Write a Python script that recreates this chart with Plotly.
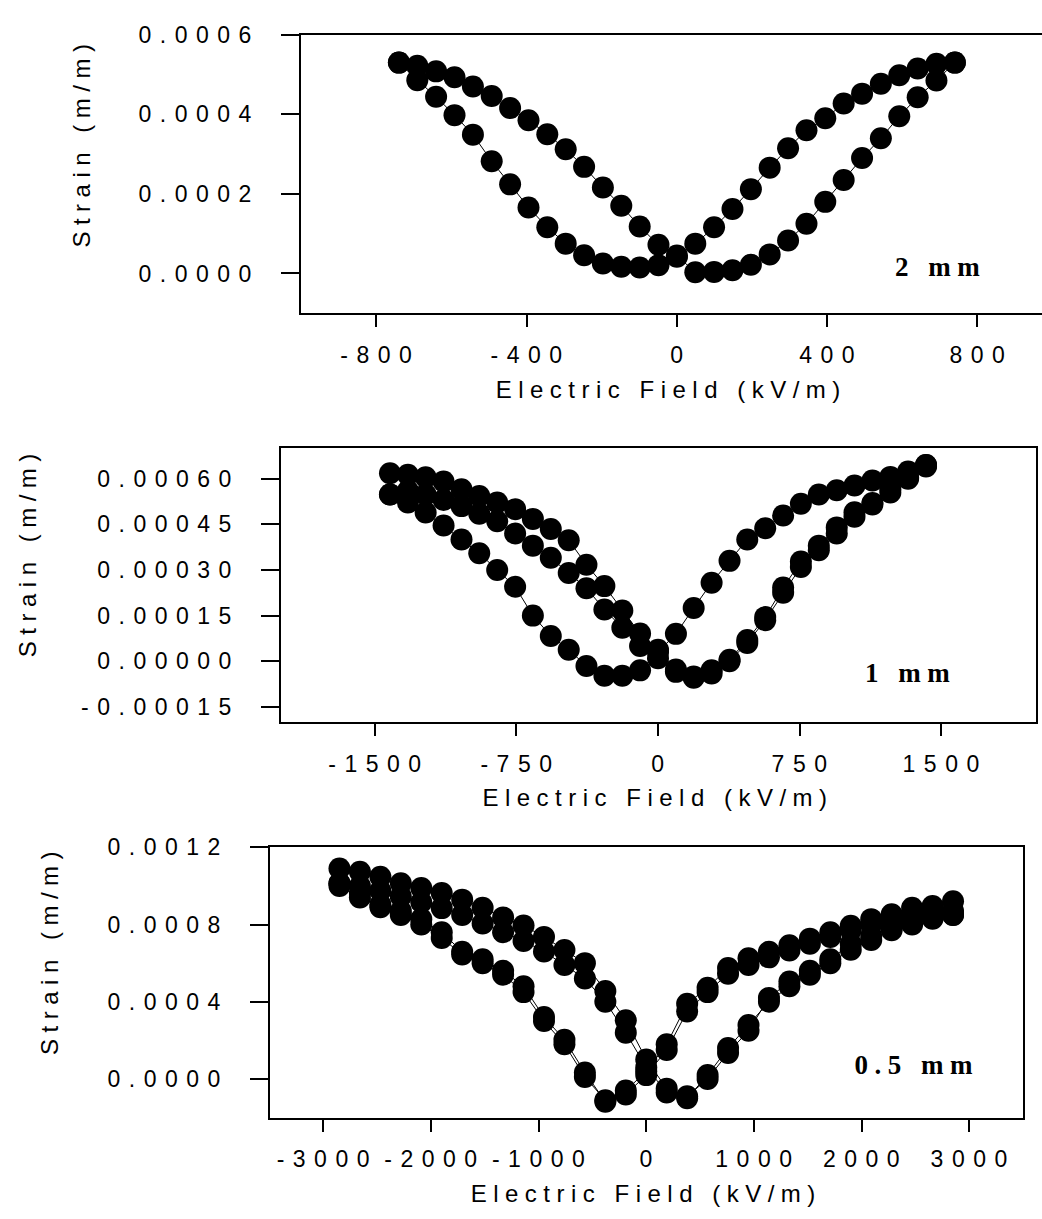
import plotly.graph_objects as go

W, H = 1042, 1219

# ---------------- data ----------------
# Panel 1 (2 mm)
E1_inc = [-740, -691, -641, -592, -543, -493, -444, -395, -345, -296, -247, -197, -148, -99, -49, 0,
          49, 99, 148, 197, 247, 296, 345, 395, 444, 493, 543, 592, 641, 691, 740]
S1_inc = [0.000530, 0.000522, 0.000508, 0.000493, 0.000470, 0.000446, 0.000416, 0.000385, 0.000350,
          0.000312, 0.000268, 0.000216, 0.000170, 0.000118, 0.000072, 0.000045, 0.000003, 0.000004,
          0.000008, 0.000022, 0.000048, 0.000083, 0.000125, 0.000180, 0.000235, 0.000290, 0.000340,
          0.000395, 0.000443, 0.000485, 0.000530]
E1_dec = [740, 691, 641, 592, 543, 493, 444, 395, 345, 296, 247, 197, 148, 99, 49, 0,
          -49, -99, -148, -197, -247, -296, -345, -395, -444, -493, -543, -592, -641, -691, -740]
S1_dec = [0.000530, 0.000527, 0.000515, 0.000498, 0.000477, 0.000452, 0.000427, 0.000390, 0.000360,
          0.000315, 0.000266, 0.000212, 0.000162, 0.000116, 0.000075, 0.000042, 0.000021, 0.000015,
          0.000017, 0.000025, 0.000046, 0.000075, 0.000116, 0.000166, 0.000224, 0.000282, 0.000349,
          0.000398, 0.000444, 0.000486, 0.000530]

# Panel 2 (1 mm)
E2_inc = [-1420, -1325, -1231, -1136, -1041, -947, -852, -757, -663, -568, -473, -379, -284, -189, -95, 0,
          95, 189, 284, 379, 473, 568, 663, 757, 852, 947, 1041, 1136, 1231, 1325, 1420]
S2_inc1 = [0.000618, 0.000613, 0.000605, 0.000591, 0.000565, 0.000543, 0.000522, 0.000500, 0.000468,
           0.000435, 0.000398, 0.000317, 0.000247, 0.000167, 0.000091, 0.000038, -0.000027, -0.000054,
           -0.000030, 0.000005, 0.000070, 0.000145, 0.000242, 0.000328, 0.000380, 0.000440, 0.000490,
           0.000520, 0.000565, 0.000605, 0.000645]
E2_dec = [1420, 1325, 1231, 1136, 1041, 947, 852, 757, 663, 568, 473, 379, 284, 189, 95, 0,
          -95, -189, -284, -379, -473, -568, -663, -757, -852, -947, -1041, -1136, -1231, -1325, -1420]
S2_dec = [0.000645, 0.000624, 0.000606, 0.000594, 0.000578, 0.000562, 0.000548, 0.000518, 0.000479,
          0.000437, 0.000400, 0.000330, 0.000258, 0.000175, 0.000090, 0.000030, -0.000030, -0.000048,
          -0.000048, -0.000016, 0.000038, 0.000083, 0.000150, 0.000245, 0.000300, 0.000355, 0.000400,
          0.000446, 0.000489, 0.000522, 0.000548]
S2_inc2 = [0.000548, 0.000560, 0.000548, 0.000530, 0.000510, 0.000485, 0.000460, 0.000420, 0.000380,
           0.000340, 0.000290, 0.000240, 0.000170, 0.000110, 0.000050, 0.000010, -0.000035, -0.000050,
           -0.000040, 0.000000, 0.000060, 0.000135, 0.000225, 0.000310, 0.000365, 0.000420, 0.000475,
           0.000515, 0.000555, 0.000600, 0.000640]

# Panel 3 (0.5 mm)
E3_inc = [-2850, -2660, -2470, -2280, -2090, -1900, -1710, -1520, -1330, -1140, -950, -760, -570, -380, -190, 0,
          190, 380, 570, 760, 950, 1140, 1330, 1520, 1710, 1900, 2090, 2280, 2470, 2660, 2850]
S3_inc1 = [0.001090, 0.001073, 0.001048, 0.001014, 0.000989, 0.000963, 0.000929, 0.000887, 0.000837,
           0.000795, 0.000736, 0.000668, 0.000600, 0.000456, 0.000304, 0.000101, -0.000050, -0.000090,
           0.000000, 0.000135, 0.000250, 0.000420, 0.000505, 0.000560, 0.000620, 0.000700, 0.000740,
           0.000790, 0.000830, 0.000850, 0.000870]
E3_dec = [2850, 2660, 2470, 2280, 2090, 1900, 1710, 1520, 1330, 1140, 950, 760, 570, 380, 190, 0,
          -190, -380, -570, -760, -950, -1140, -1330, -1520, -1710, -1900, -2090, -2280, -2470, -2660, -2850]
S3_dec1 = [0.000921, 0.000896, 0.000887, 0.000853, 0.000828, 0.000794, 0.000760, 0.000727, 0.000693,
           0.000659, 0.000625, 0.000575, 0.000473, 0.000390, 0.000180, 0.000040, -0.000060, -0.000118,
           0.000034, 0.000203, 0.000321, 0.000480, 0.000560, 0.000620, 0.000659, 0.000760, 0.000828,
           0.000870, 0.000904, 0.000963, 0.001014]
S3_inc2 = [0.001014, 0.001000, 0.000975, 0.000945, 0.000915, 0.000885, 0.000850, 0.000805, 0.000760,
           0.000715, 0.000660, 0.000590, 0.000520, 0.000400, 0.000240, 0.000060, -0.000070, -0.000100,
           0.000020, 0.000160, 0.000280, 0.000400, 0.000480, 0.000540, 0.000600, 0.000670, 0.000720,
           0.000770, 0.000800, 0.000830, 0.000850]
S3_dec2 = [0.000850, 0.000870, 0.000860, 0.000830, 0.000800, 0.000770, 0.000735, 0.000700, 0.000665,
           0.000630, 0.000590, 0.000545, 0.000450, 0.000350, 0.000150, 0.000020, -0.000080, -0.000110,
           0.000010, 0.000180, 0.000300, 0.000450, 0.000540, 0.000600, 0.000645, 0.000730, 0.000800,
           0.000850, 0.000890, 0.000940, 0.001000]

# tick labels
X1_ticks = [-800, -400, 0, 400, 800]
X1_text = ["-800", "-400", "0", "400", "800"]
Y1_ticks = [0.0, 0.0002, 0.0004, 0.0006]
Y1_text = ["0.0000", "0.0002", "0.0004", "0.0006"]
X2_ticks = [-1500, -750, 0, 750, 1500]
X2_text = ["-1500", "-750", "0", "750", "1500"]
Y2_ticks = [-0.00015, 0.0, 0.00015, 0.00030, 0.00045, 0.00060]
Y2_text = ["-0.00015", "0.00000", "0.00015", "0.00030", "0.00045", "0.00060"]
X3_ticks = [-3000, -2000, -1000, 0, 1000, 2000, 3000]
X3_text = ["-3000", "-2000", "-1000", "0", "1000", "2000", "3000"]
Y3_ticks = [0.0, 0.0004, 0.0008, 0.0012]
Y3_text = ["0.0000", "0.0004", "0.0008", "0.0012"]

X_TITLE = "Electric Field (kV/m)"
Y_TITLE = "Strain (m/m)"
LABELS = ["2 mm", "1 mm", "0.5 mm"]

# ---------------- figure ----------------
SANS = "Liberation Sans, Arial, sans-serif"
SERIF = "Liberation Serif, Times New Roman, serif"

fig = go.Figure()

def add(E, S, ax, size):
    fig.add_trace(go.Scatter(
        x=E, y=S, mode="lines+markers", xaxis=ax[0], yaxis=ax[1],
        line=dict(color="black", width=1),
        marker=dict(color="black", size=size, line=dict(width=0)),
        showlegend=False, hoverinfo="skip"))

add(E1_inc, S1_inc, ("x", "y"), 22)
add(E1_dec, S1_dec, ("x", "y"), 22)
add(E2_inc, S2_inc1, ("x2", "y2"), 22)
add(E2_dec, S2_dec, ("x2", "y2"), 22)
add(E2_inc, S2_inc2, ("x2", "y2"), 22)
add(E3_inc, S3_inc1, ("x3", "y3"), 22)
add(E3_dec, S3_dec1, ("x3", "y3"), 22)
add(E3_inc, S3_inc2, ("x3", "y3"), 22)
add(E3_dec, S3_dec2, ("x3", "y3"), 22)

def px(x):
    return x / W

def py(y):
    return 1 - y / H

TICKFONT = dict(family=SANS, size=23, color="black")
TITLEFONT = dict(family=SANS, size=24, color="black")

def xaxis(dom, rng, vals, text, anchor):
    return dict(domain=dom, range=rng, tickmode="array", tickvals=vals, ticktext=text,
                anchor=anchor,
                showline=True, linecolor="black", linewidth=2, mirror=True,
                ticks="outside", ticklen=12, tickwidth=1.5, tickcolor="black",
                showgrid=False, zeroline=False,
                tickfont=TICKFONT, ticklabelstandoff=8, ticklabelshift=4,
                title=dict(text=X_TITLE, font=TITLEFONT, standoff=14))

def yaxis(dom, rng, vals, text, anchor, mirror=True):
    return dict(domain=dom, range=rng, tickmode="array", tickvals=vals, ticktext=text,
                anchor=anchor,
                showline=True, linecolor="black", linewidth=2, mirror=mirror,
                ticks="outside", ticklen=18, tickwidth=1.5, tickcolor="black",
                showgrid=False, zeroline=False,
                tickfont=TICKFONT, ticklabelstandoff=16)

# panel geometry (pixels)
p1 = dict(x0=300.5, x1=1042, y0=22, y1=303.5)
p2 = dict(x0=280.5, x1=1035.5, y0=440, y1=716.7)
p3 = dict(x0=269.5, x1=1023, y0=843.3, y1=1116.5)

fig.update_layout(
    width=W, height=H, margin=dict(l=0, r=0, t=0, b=0),
    paper_bgcolor="white", plot_bgcolor="white", showlegend=False,
    xaxis=xaxis([px(p1["x0"]), px(p1["x1"])], [-1002, 972], X1_ticks, X1_text, "y"),
    yaxis=yaxis([py(p1["y1"]), py(p1["y0"])], [-0.0001, 0.0006], Y1_ticks, Y1_text, "x", mirror=False),
    xaxis2=xaxis([px(p2["x0"]), px(p2["x1"])], [-2000, 2000], X2_ticks, X2_text, "y2"),
    yaxis2=yaxis([py(p2["y1"]), py(p2["y0"])], [-0.0002, 0.0007], Y2_ticks, Y2_text, "x2"),
    xaxis3=xaxis([px(p3["x0"]), px(p3["x1"])], [-3500, 3500], X3_ticks, X3_text, "y3"),
    yaxis3=yaxis([py(p3["y1"]), py(p3["y0"])], [-0.0002, 0.0012], Y3_ticks, Y3_text, "x3"),
)

ann = []
# y-axis titles
for xc, yc in [(82, 131), (27, 545), (50, 947)]:
    ann.append(dict(x=px(xc), y=py(yc), xref="paper", yref="paper", text=Y_TITLE, textangle=-90,
                    showarrow=False, xanchor="center", yanchor="middle", font=TITLEFONT))
# thickness labels
for (xc, yc), lab in zip([(941, 257), (911, 667), (917, 1063)], LABELS):
    ann.append(dict(x=px(xc), y=py(yc), xref="paper", yref="paper", text="<b>" + lab + "</b>",
                    showarrow=False, xanchor="center", yanchor="middle",
                    font=dict(family=SERIF, size=27, color="black")))
fig.update_layout(annotations=ann)

post = """
document.body.style.margin = '0';
var s = document.createElement('style');
s.textContent = 'body{margin:0;}' +
  'g.xtick text, g.x2tick text, g.x3tick text, g.ytick text, g.y2tick text, g.y3tick text {letter-spacing: 8.5px;}' +
  '.g-xtitle text, .g-x2title text, .g-x3title text {letter-spacing: 6.5px;}' +
  '.annotation-text {letter-spacing: 6.5px;}';
document.head.appendChild(s);
"""

fig.write_html("out.html", post_script=post, config={"displayModeBar": False})
